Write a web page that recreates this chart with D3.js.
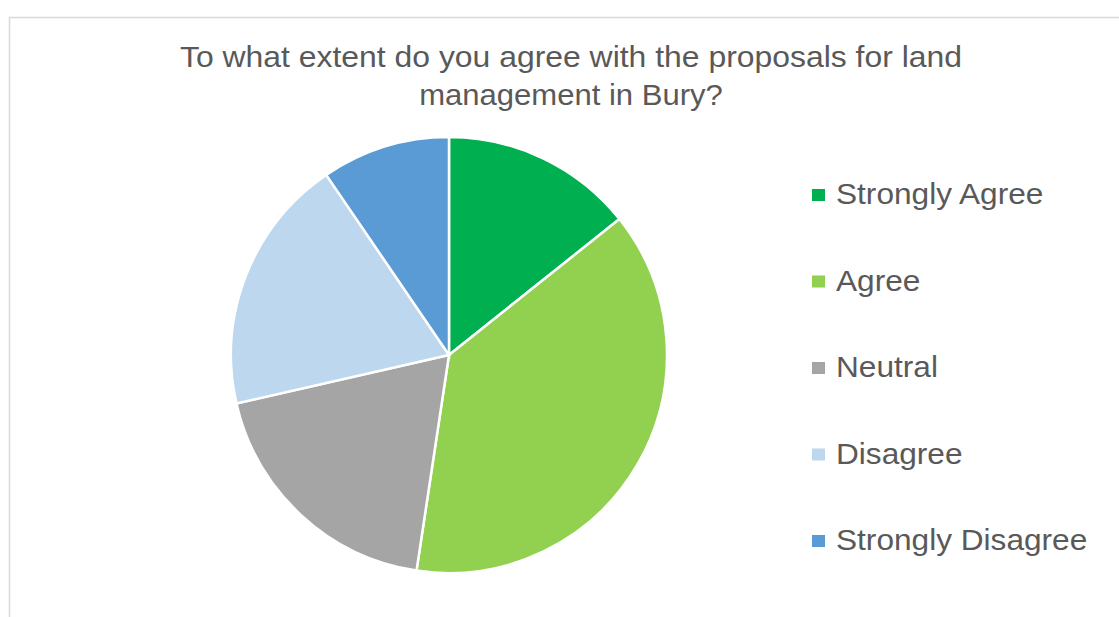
<!DOCTYPE html>
<html><head><meta charset="utf-8">
<script src="https://cdn.jsdelivr.net/npm/d3@7"></script>
<style>body{margin:0;background:#fff;}svg{display:block;}</style>
</head><body>
<svg id="c" width="1119" height="617"></svg>
<script>
const categories = ["Strongly Agree","Agree","Neutral","Disagree","Strongly Disagree"];
const values = [15, 40, 20, 20, 10];
const colors = ["#00B050","#92D050","#A5A5A5","#BDD7EE","#5B9BD5"];
const titleLines = ["To what extent do you agree with the proposals for land","management in Bury?"];

const svg = d3.select("#c");
const font = "'Liberation Sans', Arial, sans-serif";
svg.append("rect").attr("x",9.5).attr("y",17.5).attr("width",1200).attr("height",700)
  .attr("fill","#fff").attr("stroke","#d9d9d9").attr("stroke-width",1.5);

svg.selectAll("text.title").data(titleLines).join("text").attr("class","title")
  .attr("x",571).attr("y",(d,i)=>67+i*38).attr("text-anchor","middle")
  .attr("font-family",font).attr("font-size",29).attr("fill","#595959")
  .text(d=>d)
  .each(function(d,i){
    const w = this.getComputedTextLength();
    d3.select(this).attr("textLength", w*(i?1.07:1.1)).attr("lengthAdjust","spacingAndGlyphs");
  });

const data = categories.map((c,i)=>({c, v: values[i], col: colors[i]}));
const pie = d3.pie().value(d=>d.v).sort(null);
const arc = d3.arc().innerRadius(0).outerRadius(218);
const g = svg.append("g").attr("transform","translate(449,355)");
g.selectAll("path").data(pie(data)).join("path")
  .attr("d",arc).attr("fill",d=>d.data.col).attr("stroke","#fff").attr("stroke-width",2.5);

const y = d3.scalePoint().domain(categories).range([194,540]);
const lg = svg.append("g");
lg.selectAll("rect").data(data).join("rect")
  .attr("x",812).attr("y",d=>y(d.c)-5).attr("width",13).attr("height",12).attr("fill",d=>d.col);
lg.selectAll("text").data(data).join("text")
  .attr("x",836).attr("y",d=>y(d.c)+10).attr("font-family",font).attr("font-size",29)
  .attr("fill","#595959").text(d=>d.c)
  .each(function(){
    const w = this.getComputedTextLength();
    d3.select(this).attr("textLength", w*1.09).attr("lengthAdjust","spacingAndGlyphs");
  });
</script>
</body></html>
